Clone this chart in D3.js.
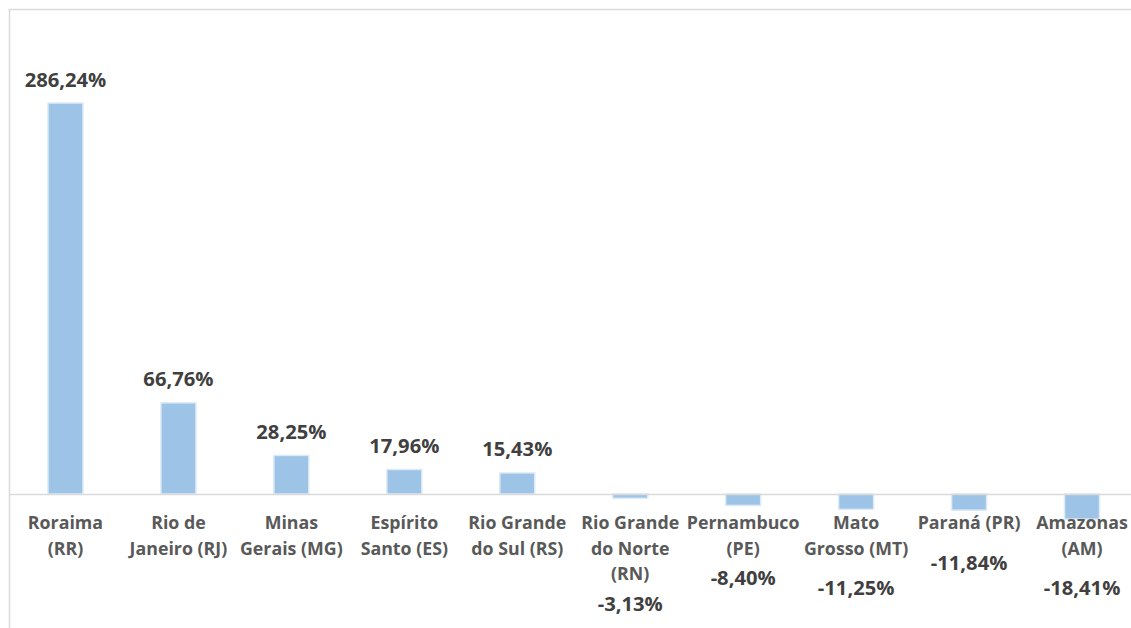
<!DOCTYPE html>
<html>
<head>
<meta charset="utf-8">
<script src="https://cdn.jsdelivr.net/npm/d3@7"></script>
<style>
  html, body { margin: 0; padding: 0; background: #fff; overflow: hidden; }
  svg { display: block; }
</style>
</head>
<body>
<svg id="chart" width="1131" height="628"></svg>
<script>
// ---- data ----
const categories = [
  "Roraima\n(RR)",
  "Rio de\nJaneiro (RJ)",
  "Minas\nGerais (MG)",
  "Espírito\nSanto (ES)",
  "Rio Grande\ndo Sul (RS)",
  "Rio Grande\ndo Norte\n(RN)",
  "Pernambuco\n(PE)",
  "Mato\nGrosso (MT)",
  "Paraná (PR)",
  "Amazonas\n(AM)"
];
const values = [286.24, 66.76, 28.25, 17.96, 15.43, -3.13, -8.40, -11.25, -11.84, -18.41];
const valueLabels = ["286,24%", "66,76%", "28,25%", "17,96%", "15,43%", "-3,13%", "-8,40%", "-11,25%", "-11,84%", "-18,41%"];

// ---- layout ----
const W = 1131, H = 628;
const plotLeft = 9, plotRight = 1138.5;
const zeroY = 494, topY = 103;
const svg = d3.select("#chart");
const FONT = "'Open Sans', 'DejaVu Sans', sans-serif";

const x = d3.scaleBand()
  .domain(d3.range(categories.length))
  .range([plotLeft, plotRight])
  .paddingInner(0.69)
  .paddingOuter(0.345);

const y = d3.scaleLinear()
  .domain([0, 286.24])
  .range([zeroY, topY]);

// frame (chart area border, cropped on right/bottom)
svg.append("line").attr("x1", 8.5).attr("x2", W).attr("y1", 9.5).attr("y2", 9.5)
  .attr("stroke", "#d9d9d9").attr("stroke-width", 1.5);
svg.append("line").attr("x1", 9.5).attr("x2", 9.5).attr("y1", 9).attr("y2", H)
  .attr("stroke", "#d9d9d9").attr("stroke-width", 1.5);

// bars
svg.append("g").selectAll("rect")
  .data(values)
  .join("rect")
  .attr("x", (d, i) => x(i))
  .attr("width", x.bandwidth())
  .attr("y", d => Math.min(y(d), y(0)))
  .attr("height", d => Math.abs(y(d) - y(0)))
  .attr("fill", "#9dc3e6")
  .attr("stroke", "#deebf7")
  .attr("stroke-width", 1.5);

// zero axis line
svg.append("line").attr("x1", plotLeft).attr("x2", W).attr("y1", zeroY + 0.5).attr("y2", zeroY + 0.5)
  .attr("stroke", "#d9d9d9").attr("stroke-width", 1.5);

// category labels
const firstLineY = 522, lineH = 25.5;
const catG = svg.append("g");
categories.forEach((c, i) => {
  const lines = c.split("\n");
  const cx = x(i) + x.bandwidth() / 2;
  lines.forEach((ln, j) => {
    catG.append("text")
      .attr("x", cx)
      .attr("y", firstLineY + j * lineH)
      .attr("text-anchor", "middle")
      .attr("dominant-baseline", "central")
      .attr("font-family", FONT)
      .attr("font-weight", 700)
      .attr("font-size", 17.8)
      .attr("fill", "#595959")
      .text(ln);
  });
});

// value labels
const valG = svg.append("g");
values.forEach((v, i) => {
  const cx = x(i) + x.bandwidth() / 2;
  let ly;
  if (v >= 0) {
    ly = y(v) - 24.5;
  } else {
    const nLines = categories[i].split("\n").length;
    const lastLine = firstLineY + (nLines - 1) * lineH;
    const depth = y(v) - y(0);
    ly = lastLine + (depth > 13 ? 39.5 : 29.5);
  }
  valG.append("text")
    .attr("x", cx)
    .attr("y", ly)
    .attr("text-anchor", "middle")
    .attr("dominant-baseline", "central")
    .attr("font-family", FONT)
    .attr("font-weight", 700)
    .attr("font-size", 20.2)
    .attr("fill", "#404040")
    .text(valueLabels[i]);
});
</script>
</body>
</html>
